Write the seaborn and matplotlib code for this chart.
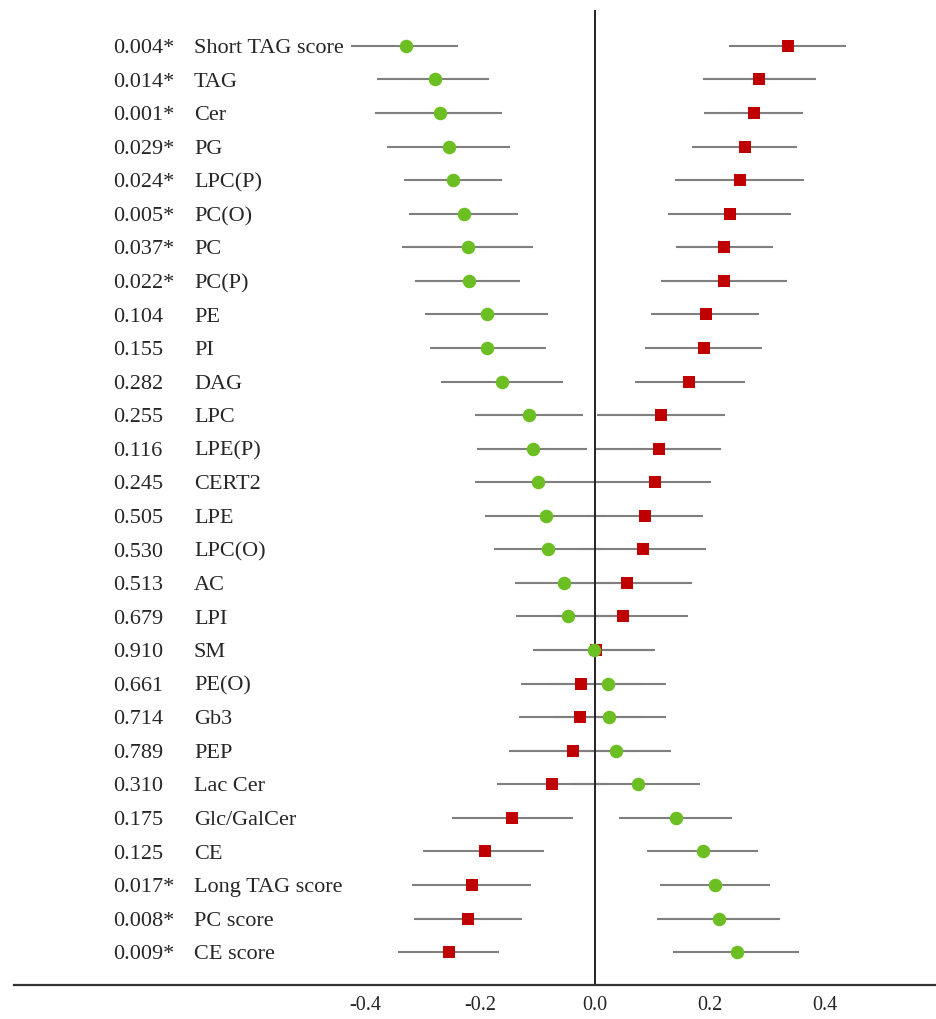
import pandas as pd
import matplotlib
import matplotlib.pyplot as plt
import seaborn as sns

matplotlib.use('Agg')

# lipid classes, top to bottom
names = ["Short TAG score", "TAG", "Cer", "PG", "LPC(P)", "PC(O)", "PC", "PC(P)",
         "PE", "PI", "DAG", "LPC", "LPE(P)", "CERT2", "LPE", "LPC(O)", "AC", "LPI",
         "SM", "PE(O)", "Gb3", "PEP", "Lac Cer", "Glc/GalCer", "CE",
         "Long TAG score", "PC score", "CE score"]
pvals = ["0.004*", "0.014*", "0.001*", "0.029*", "0.024*", "0.005*", "0.037*", "0.022*",
         "0.104", "0.155", "0.282", "0.255", "0.116", "0.245", "0.505", "0.530", "0.513",
         "0.679", "0.910", "0.661", "0.714", "0.789", "0.310", "0.175", "0.125",
         "0.017*", "0.008*", "0.009*"]

# green group: estimate, lower, upper
green_est = [-0.328, -0.279, -0.270, -0.254, -0.247, -0.228, -0.221, -0.219, -0.187, -0.187,
             -0.161, -0.115, -0.107, -0.100, -0.086, -0.082, -0.054, -0.047, -0.001, 0.022,
             0.025, 0.037, 0.074, 0.141, 0.187, 0.208, 0.215, 0.247]
green_lo = [-0.424, -0.380, -0.383, -0.361, -0.333, -0.324, -0.336, -0.313, -0.296, -0.287,
            -0.268, -0.208, -0.206, -0.208, -0.192, -0.175, -0.140, -0.138, -0.108, -0.078,
            -0.073, -0.059, -0.037, 0.041, 0.090, 0.113, 0.108, 0.136]
green_hi = [-0.238, -0.184, -0.162, -0.148, -0.161, -0.134, -0.107, -0.130, -0.081, -0.086,
            -0.056, -0.021, -0.014, 0.007, 0.019, 0.010, 0.033, 0.043, 0.104, 0.123,
            0.123, 0.132, 0.183, 0.239, 0.284, 0.304, 0.321, 0.355]

# red group: estimate, lower, upper
red_est = [0.336, 0.285, 0.276, 0.260, 0.253, 0.234, 0.225, 0.225, 0.193, 0.190,
           0.164, 0.115, 0.111, 0.104, 0.087, 0.083, 0.055, 0.048, 0.002, -0.024,
           -0.026, -0.038, -0.075, -0.145, -0.191, -0.214, -0.221, -0.254]
red_lo = [0.233, 0.187, 0.190, 0.169, 0.139, 0.127, 0.141, 0.115, 0.097, 0.087,
          0.069, 0.004, 0.001, 0.003, -0.014, -0.026, -0.057, -0.064, -0.101, -0.129,
          -0.133, -0.150, -0.171, -0.249, -0.299, -0.319, -0.315, -0.342]
red_hi = [0.437, 0.384, 0.362, 0.351, 0.363, 0.340, 0.309, 0.334, 0.286, 0.290,
          0.260, 0.226, 0.219, 0.202, 0.188, 0.193, 0.169, 0.161, 0.101, 0.080,
          0.082, 0.075, 0.021, -0.039, -0.088, -0.111, -0.127, -0.167]

xticks = [-0.4, -0.2, 0.0, 0.2, 0.4]
xtick_labels = ["-0.4", "-0.2", "0.0", "0.2", "0.4"]

sns.set_style('white')
plt.rcParams['font.family'] = ['Liberation Serif', 'DejaVu Serif']
plt.rcParams['axes.unicode_minus'] = False

rows = list(range(len(names)))
df = pd.concat([
    pd.DataFrame({'row': rows, 'est': green_est, 'lo': green_lo, 'hi': green_hi, 'group': 'green'}),
    pd.DataFrame({'row': rows, 'est': red_est, 'lo': red_lo, 'hi': red_hi, 'group': 'red'}),
], ignore_index=True)

fig = plt.figure(figsize=(9.37, 10.19), dpi=100)
ax = fig.add_axes([14 / 937, 34 / 1019, 923 / 937, 975 / 1019])

# confidence intervals
ax.hlines(df['row'], df['lo'], df['hi'], color='#7f7f7f', lw=1.5, zorder=1)
ax.axvline(0, color='#222222', lw=1.4, zorder=2)

sns.scatterplot(data=df[df['group'] == 'red'], x='est', y='row', marker='s',
                color='#c00000', s=85, linewidth=0, ax=ax, zorder=3)
sns.scatterplot(data=df[df['group'] == 'green'], x='est', y='row', marker='o',
                color='#6cbf22', s=95, linewidth=0, ax=ax, zorder=4)

# labels on the left
tr = ax.get_yaxis_transform()
for i in rows:
    ax.text(0.1073, i + 0.08, pvals[i], transform=tr, ha='left', va='center', fontsize=16)
    ax.text(0.195, i + 0.08, names[i], transform=tr, ha='left', va='center', fontsize=16)

ax.set_xlim((14 - 595) / 575, (937 - 595) / 575)
ax.set_ylim(27.98, -1.07)
ax.set_xticks(xticks)
ax.set_xticklabels(xtick_labels, fontsize=14.5)
ax.set_yticks([])
ax.tick_params(axis='x', length=0, pad=8)
ax.set_xlabel('')
ax.set_ylabel('')
for side in ['top', 'right', 'left']:
    ax.spines[side].set_visible(False)
ax.spines['bottom'].set_color('#333333')
ax.spines['bottom'].set_linewidth(1.6)

plt.savefig('out.png', dpi=100)
